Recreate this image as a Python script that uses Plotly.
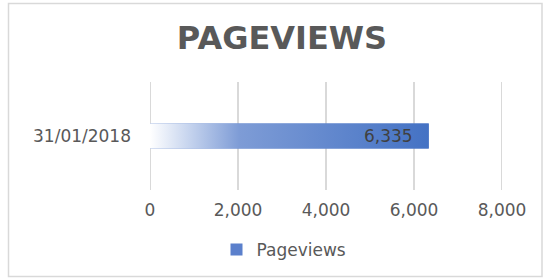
import plotly.graph_objects as go

# ---- data ----
categories = ["31/01/2018"]
pageviews = [6335]
series_name = "Pageviews"
x_tick_vals = [0, 2000, 4000, 6000, 8000]
title_text = "PAGEVIEWS"

W, H = 544, 278
L, R, T, B = 150, 42, 82, 88
pw, ph = W - L - R, H - T - B

FONT = "DejaVu Sans"
GREY = "#595959"

fig = go.Figure()

# bar (provides legend entry)
half = 0.115
fig.add_trace(go.Bar(
    x=pageviews, y=list(range(len(categories))), orientation="h",
    width=2 * half, name=series_name,
    marker=dict(color="#5b80cc", line=dict(width=0)),
    hoverinfo="skip",
))

# gradient overlay built from the same data
for i, v in enumerate(pageviews):
    fig.add_trace(go.Scatter(
        x=[0, v, v, 0, 0], y=[i - half, i - half, i + half, i + half, i - half],
        mode="lines", line=dict(width=0), fill="toself",
        fillgradient=dict(type="horizontal",
                          colorscale=[[0, "#ffffff"], [0.14, "#c6d4ee"],
                                      [0.32, "#7e9cd6"], [1, "#4472c4"]]),
        showlegend=False, hoverinfo="skip",
    ))
    fig.add_annotation(x=v, y=i, xref="x", yref="y", text=f"{v:,}",
                       showarrow=False, xanchor="right", xshift=-14,
                       font=dict(family=FONT, size=17, color="#404040"))

# vertical gridlines at tick values
for tv in x_tick_vals:
    fig.add_shape(type="line", xref="x", yref="paper", x0=tv, x1=tv, y0=0, y1=1,
                  line=dict(color="#d9d9d9", width=2), layer="below")

# border
def px_x(p):
    return (p - L) / pw

def px_y(p):
    return 1 - (p - T) / ph

fig.add_shape(type="rect", xref="paper", yref="paper",
              x0=px_x(8.5), x1=px_x(542), y0=px_y(3.5), y1=px_y(276.5),
              line=dict(color="#d9d9d9", width=1.5), fillcolor="rgba(0,0,0,0)",
              layer="below")

fig.update_layout(
    width=W, height=H,
    margin=dict(l=L, r=R, t=T, b=B, autoexpand=False),
    paper_bgcolor="white", plot_bgcolor="white",
    title=dict(text=f"<b>{title_text}</b>", x=282 / W, xanchor="center",
               xref="container", y=1 - 38 / H, yanchor="middle", yref="container",
               font=dict(family=FONT, size=32, color=GREY)),
    xaxis=dict(range=[0, 8000], tickvals=x_tick_vals,
               ticktext=[f"{v:,}" for v in x_tick_vals],
               showgrid=False, zeroline=False, showline=False, ticks="",
               ticklabelstandoff=8,
               tickfont=dict(family=FONT, size=17, color=GREY)),
    yaxis=dict(range=[-0.5, 0.5], tickvals=list(range(len(categories))),
               ticktext=categories, showgrid=False, zeroline=False,
               showline=False, ticks="", ticklabelstandoff=18,
               tickfont=dict(family=FONT, size=17, color=GREY)),
    showlegend=True,
    legend=dict(orientation="h", x=px_x(284), xanchor="center",
                y=px_y(250), yanchor="middle",
                font=dict(family=FONT, size=17, color=GREY),
                itemwidth=30, bgcolor="rgba(0,0,0,0)"),
)

fig.write_html("out.html", config={"displayModeBar": False},
               post_script="document.body.style.margin='0';"
                           "document.documentElement.style.overflow='hidden';")
